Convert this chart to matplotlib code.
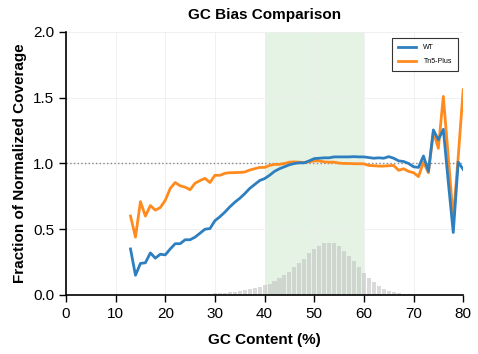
import matplotlib
matplotlib.use("Agg")
import matplotlib.pyplot as plt
import numpy as np

plt.rcParams['font.family'] = ['Liberation Sans', 'DejaVu Sans']

gc = list(range(13, 81))
wt = [0.35, 0.15, 0.24, 0.245, 0.32, 0.28, 0.31, 0.305, 0.35, 0.39,
      0.39, 0.42, 0.42, 0.44, 0.47, 0.50, 0.505, 0.565, 0.595, 0.63,
      0.67, 0.705, 0.735, 0.77, 0.81, 0.84, 0.87, 0.885, 0.91, 0.94,
      0.96, 0.975, 0.99, 1.0, 1.005, 1.005, 1.02, 1.037, 1.04, 1.043,
      1.043, 1.05, 1.05, 1.05, 1.05, 1.052, 1.05, 1.05, 1.045, 1.04,
      1.043, 1.04, 1.052, 1.04, 1.02, 1.015, 1.0, 0.975, 0.97, 1.057,
      0.94, 1.255, 1.18, 1.26, 0.86, 0.475, 1.01, 0.955]
tn5 = [0.60, 0.44, 0.71, 0.60, 0.68, 0.645, 0.665, 0.72, 0.81, 0.855,
       0.83, 0.82, 0.80, 0.85, 0.87, 0.887, 0.855, 0.91, 0.91, 0.925,
       0.93, 0.93, 0.932, 0.935, 0.95, 0.96, 0.97, 0.97, 0.985, 0.993,
       0.993, 1.0, 1.01, 1.012, 1.01, 1.008, 1.012, 1.02, 1.02, 1.012,
       1.01, 1.01, 1.003, 1.0, 1.0, 0.998, 0.998, 0.997, 0.985, 0.983,
       0.98, 0.98, 0.983, 0.985, 0.948, 0.96, 0.94, 0.93, 0.90, 1.01,
       0.93, 1.24, 1.115, 1.51, 1.05, 0.58, 1.05, 1.56]

hist_gc = list(range(26, 71))
hist_frac = [0.003, 0.005, 0.008, 0.01, 0.012, 0.015, 0.017, 0.02, 0.025, 0.03,
             0.035, 0.043, 0.05, 0.063, 0.076, 0.087, 0.106, 0.127, 0.152, 0.177,
             0.21, 0.24, 0.276, 0.317, 0.35, 0.375, 0.393, 0.398, 0.393, 0.375,
             0.337, 0.30, 0.258, 0.21, 0.17, 0.127, 0.095, 0.065, 0.045, 0.03,
             0.02, 0.012, 0.008, 0.005, 0.003]

fig = plt.figure(figsize=(4.78, 3.54), dpi=100)
ax = fig.add_axes([0.138, 0.1667, 0.831, 0.743])

ax.axvspan(40, 60, color='#2ca02c', alpha=0.12, lw=0, zorder=0)
ax.bar(hist_gc, hist_frac, width=0.82, color='#bdbdbd', alpha=0.55, zorder=1)
ax.axhline(1.0, color='#888888', ls=':', lw=1.0, zorder=2)
ax.plot(gc, wt, color='#2e7fbf', lw=2, label='WT', zorder=4)
ax.plot(gc, tn5, color='#ff8b1f', lw=2, label='Tn5-Plus', zorder=3)

ax.set_xlim(0, 80)
ax.set_ylim(0, 2.0)
ax.set_xticks(range(0, 81, 10))
ax.set_yticks([0.0, 0.5, 1.0, 1.5, 2.0])
ax.grid(True, color='#eeeeee', lw=0.6, zorder=0)
ax.set_axisbelow(True)
for s in ['top', 'right']:
    ax.spines[s].set_visible(False)
for s in ['left', 'bottom']:
    ax.spines[s].set_linewidth(1.2)
ax.tick_params(labelsize=11, width=1.0, length=5)

ax.set_title('GC Bias Comparison', fontsize=11, fontweight='bold', pad=9.5)
ax.set_xlabel('GC Content (%)', fontsize=11, fontweight='bold', labelpad=9)
ax.set_ylabel('Fraction of Normalized Coverage', fontsize=11, fontweight='bold')

leg = ax.legend(loc='upper right', fontsize=5, frameon=True, fancybox=False,
                edgecolor='black', borderpad=0.9, handlelength=2.5,
                handletextpad=1.1, labelspacing=1.0, borderaxespad=0,
                bbox_to_anchor=(0.9874, 0.9772))
leg.get_frame().set_linewidth(0.8)

fig.savefig('out.png', dpi=100)
